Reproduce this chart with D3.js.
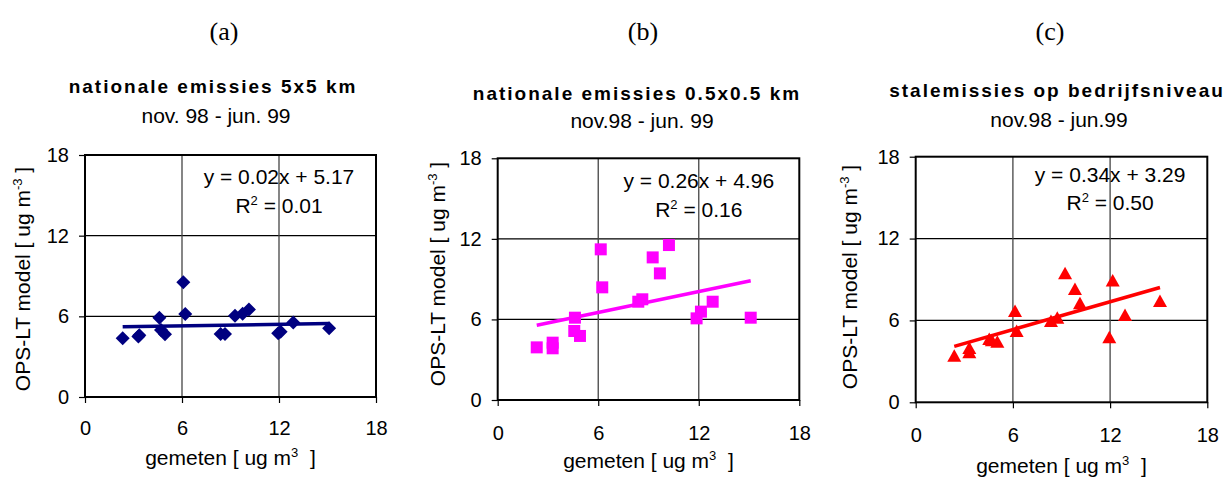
<!DOCTYPE html>
<html lang="nl">
<head>
<meta charset="UTF-8">
<title>OPS-LT model vs gemeten</title>
<script src="https://cdn.jsdelivr.net/npm/d3@7"></script>
<style>
  body { margin: 0; background: #fff; }
  svg text { font-family: "Liberation Sans", Arial, sans-serif; fill: #000; white-space: pre; }
</style>
</head>
<body>
<div id="chart"></div>
<script>
// panel labels, titles and periods
var letters = ["(a)", "(b)", "(c)"];
var titles = ["nationale emissies 5x5 km", "nationale emissies 0.5x0.5 km", "stalemissies op bedrijfsniveau"];
var periods = ["nov. 98 - jun. 99", "nov.98 - jun. 99", "nov.98 - jun.99"];
var ticks = [0, 6, 12, 18];

// (a) nationale emissies 5x5 km
var gemetenA = [2.33, 3.3, 3.36, 4.6, 4.7, 4.95, 6.08, 6.2, 8.39, 8.66, 9.28, 9.75, 10.14, 11.95, 12.1, 12.88, 15.1];
var modelA   = [4.37, 4.5, 4.6, 5.9, 4.98, 4.66, 8.53, 6.17, 4.69, 4.69, 6.05, 6.2, 6.5, 4.75, 4.85, 5.55, 5.11];
var fitA = [0.02, 5.17], r2A = "0.01";

// (b) nationale emissies 0.5x0.5 km
var gemetenB = [2.33, 3.28, 3.28, 4.61, 4.57, 4.91, 6.15, 6.24, 8.39, 8.63, 9.25, 9.68, 10.22, 11.87, 12.13, 12.83, 15.1];
var modelB   = [3.92, 4.27, 3.85, 6.13, 5.14, 4.77, 11.22, 8.39, 7.32, 7.5, 10.62, 9.43, 11.54, 6.08, 6.58, 7.32, 6.13];
var fitB = [0.26, 4.96], r2B = "0.16";

// (c) stalemissies op bedrijfsniveau
var gemetenC = [2.38, 3.31, 3.31, 4.54, 4.7, 5.04, 6.13, 6.23, 8.35, 8.74, 9.22, 9.83, 10.14, 11.95, 12.16, 12.92, 15.08];
var modelC   = [3.42, 3.67, 3.98, 4.64, 4.55, 4.44, 6.69, 5.23, 5.96, 6.2, 9.46, 8.31, 7.26, 4.77, 8.92, 6.4, 7.43];
var fitC = [0.34, 3.29], r2C = "0.50";

var panels = [
  { x: gemetenA, y: modelA, fit: fitA, r2: r2A, color: "#000080", marker: "diamond",
    box: [85, 155, 376, 397], letterX: 224, titleX: 213, titleY: 93, subX: 216, subY: 123,
    eqY: [184, 213], xlabY: 465, ylabX: 30, ylabY: 279, xtY: 38 },
  { x: gemetenB, y: modelB, fit: fitB, r2: r2B, color: "#FF00FF", marker: "square",
    box: [497.7, 158.3, 799.3, 400], letterX: 643, titleX: 637, titleY: 100, subX: 642, subY: 128,
    eqY: [188, 217], xlabY: 468, ylabX: 445, ylabY: 274, xtY: 40 },
  { x: gemetenC, y: modelC, fit: fitC, r2: r2C, color: "#FF0000", marker: "triangle",
    box: [915.7, 156.7, 1207.3, 402.3], letterX: 1050, titleX: 1057, titleY: 97, subX: 1059, subY: 127,
    eqY: [182, 210], xlabY: 473, ylabX: 857, ylabY: 277, xtY: 40 }
];

var svg = d3.select("#chart").append("svg")
  .attr("width", 1232)
  .attr("height", 477);

var shapes = {
  diamond: "M0,-7L7,0L0,7L-7,0Z",
  square: "M-6,-6H6V6H-6Z",
  triangle: "M0,-6.5L7,6L-7,6Z"
};

panels.forEach(function(p, i){
  var x0 = p.box[0], y0 = p.box[1], x1 = p.box[2], y1 = p.box[3];
  var xScale = d3.scaleLinear().domain([0, 18]).range([x0, x1]);
  var yScale = d3.scaleLinear().domain([0, 18]).range([y1, y0]);
  var g = svg.append("g");

  // (a) (b) (c)
  g.append("text")
    .attr("x", p.letterX).attr("y", 40)
    .attr("text-anchor", "middle")
    .style("font-family", "'Liberation Serif', 'Times New Roman', serif")
    .style("font-size", "26px")
    .text(letters[i]);

  g.append("text")
    .attr("x", p.titleX).attr("y", p.titleY)
    .attr("text-anchor", "middle")
    .style("font-size", "19px").style("font-weight", "bold").style("letter-spacing", "2px")
    .text(titles[i]);

  g.append("text")
    .attr("x", p.subX).attr("y", p.subY)
    .attr("text-anchor", "middle")
    .style("font-size", "21px")
    .text(periods[i]);

  // grid
  g.selectAll(".hgrid").data([6, 12]).enter().append("line")
    .attr("x1", x0).attr("x2", x1)
    .attr("y1", function(d){ return yScale(d); })
    .attr("y2", function(d){ return yScale(d); })
    .attr("stroke", "#000").attr("stroke-width", 1.2);
  g.selectAll(".vgrid").data([6, 12]).enter().append("line")
    .attr("y1", y0).attr("y2", y1)
    .attr("x1", function(d){ return xScale(d); })
    .attr("x2", function(d){ return xScale(d); })
    .attr("stroke", "#444").attr("stroke-width", 1.3);

  // axes
  var xAxis = d3.axisBottom(xScale).tickValues(ticks).tickSize(6).tickSizeOuter(0);
  var yAxis = d3.axisLeft(yScale).tickValues(ticks).tickSize(6).tickPadding(10).tickSizeOuter(0);
  var gx = g.append("g").attr("transform", "translate(0," + y1 + ")").call(xAxis);
  var gy = g.append("g").attr("transform", "translate(" + x0 + ",0)").call(yAxis);
  [gx, gy].forEach(function(a){
    a.select(".domain").remove();
    a.selectAll("line").attr("stroke", "#000").attr("stroke-width", 1.2);
    a.selectAll("text").style("font-size", "20px").attr("font-family", null);
  });
  gx.selectAll("text").attr("y", p.xtY).attr("dy", null);

  // plot frame
  g.append("rect")
    .attr("x", x0).attr("y", y0)
    .attr("width", x1 - x0).attr("height", y1 - y0)
    .attr("fill", "none").attr("stroke", "#000").attr("stroke-width", 2);

  // trend line over the measured range
  var xr = d3.extent(p.x);
  g.append("line")
    .attr("x1", xScale(xr[0])).attr("y1", yScale(p.fit[0] * xr[0] + p.fit[1]))
    .attr("x2", xScale(xr[1])).attr("y2", yScale(p.fit[0] * xr[1] + p.fit[1]))
    .attr("stroke", p.color).attr("stroke-width", 3.5);

  // points
  g.selectAll(".pt").data(p.x).enter().append("path")
    .attr("d", shapes[p.marker])
    .attr("transform", function(d, k){ return "translate(" + xScale(d) + "," + yScale(p.y[k]) + ")"; })
    .attr("fill", p.color);

  // regression equation
  var ex = xScale(12);
  g.append("text")
    .attr("x", ex).attr("y", p.eqY[0])
    .attr("text-anchor", "middle")
    .style("font-size", "21px")
    .text("y = " + p.fit[0].toFixed(2) + "x + " + p.fit[1].toFixed(2));
  var r = g.append("text")
    .attr("x", ex).attr("y", p.eqY[1])
    .attr("text-anchor", "middle")
    .style("font-size", "21px");
  r.append("tspan").text("R");
  r.append("tspan").attr("dy", -8).style("font-size", "13px").text("2");
  r.append("tspan").attr("dy", 8).text(" = " + p.r2);

  // axis titles
  var xl = g.append("text")
    .attr("x", (x0 + x1) / 2).attr("y", p.xlabY)
    .attr("text-anchor", "middle")
    .style("font-size", "21px");
  xl.append("tspan").text("gemeten [ ug m");
  xl.append("tspan").attr("dy", -8).style("font-size", "13px").text("3");
  xl.append("tspan").attr("dy", 8).text("  ]");

  var yl = g.append("text")
    .attr("transform", "translate(" + p.ylabX + "," + p.ylabY + ") rotate(-90)")
    .attr("text-anchor", "middle")
    .style("font-size", "21px");
  yl.append("tspan").text("OPS-LT model [ ug m");
  yl.append("tspan").attr("dy", -8).style("font-size", "13px").text("-3");
  yl.append("tspan").attr("dy", 8).text(" ]");
});
</script>
</body>
</html>
